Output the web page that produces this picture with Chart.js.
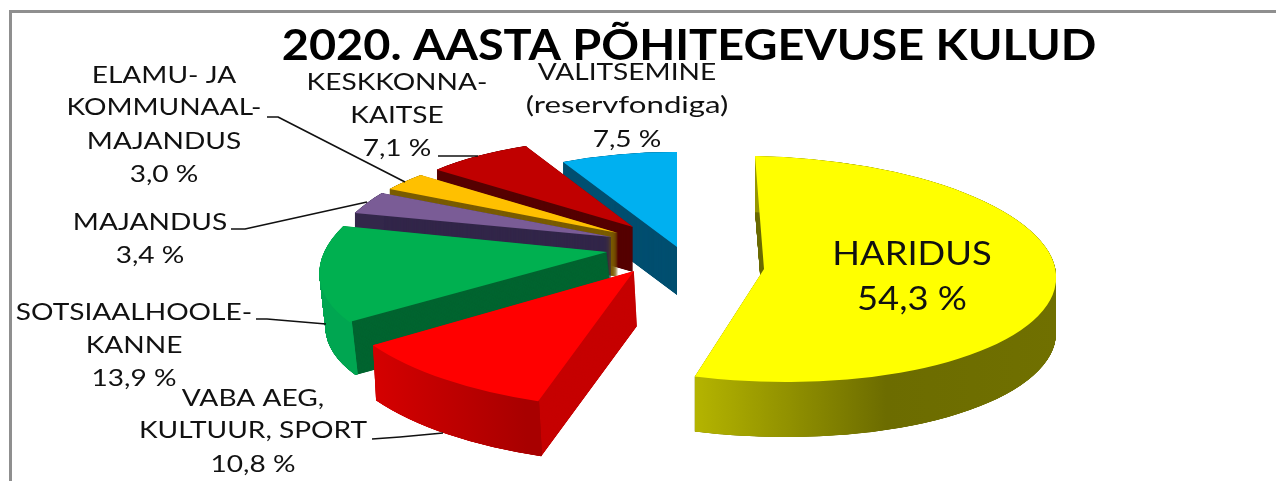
<!DOCTYPE html>
<html><head><meta charset="utf-8">
<style>html,body{margin:0;padding:0;background:#fff}#wrap{position:relative;width:1276px;height:481px}canvas{display:block}</style>
<script src="https://cdn.jsdelivr.net/npm/chart.js@4"></script>
</head><body><div id="wrap"><canvas id="c" width="1276" height="481"></canvas></div>
<script>
const chartTitle = '2020. AASTA PÕHITEGEVUSE KULUD';
const categories = ['HARIDUS','VABA AEG, KULTUUR, SPORT','SOTSIAALHOOLEKANNE','MAJANDUS','ELAMU- JA KOMMUNAALMAJANDUS','KESKKONNAKAITSE','VALITSEMINE (reservfondiga)'];
const values = [54.3,10.8,13.9,3.4,3.0,7.1,7.5];
const topColors = ['#ffff00','#ff0000','#00b050','#7a5c96','#ffc000','#c00000','#00b0f0'];
const wallColors = ['#6e6e00','#c60000','#006531','#33274a','#7a5c00','#560000','#004f70'];
const rimStops = [
  [[-0.3,'#b8b800'],[0.39,'#6c6c00'],[1,'#707000']],
  [[-0.85,'#d80000'],[-0.31,'#a80000']],
  [[-1,'#00a651'],[1,'#00a651']],
  [[-1,'#33274a'],[1,'#33274a']],
  [[-1,'#7a5c00'],[1,'#7a5c00']],
  [[-1,'#560000'],[1,'#560000']],
  [[-1,'#004f70'],[1,'#004f70']]
];
// Per-slice projection of the pie plane: where the slice's apex lands, the linear view matrix, the wall depth vector.
const sliceViews = [
  {tx:764,ty:269,a:292,b:5,c:9,d:113,wx:0,wy:55},
  {tx:634,ty:271,a:312,b:7,c:-13,d:137,wx:3,wy:55},
  {tx:607,ty:252,a:284,b:-3,c:-46,d:116,wx:6,wy:53},
  {tx:612,ty:237,a:274,b:-1,c:-33,d:100,wx:0,wy:45},
  {tx:618,ty:233,a:269,b:4,c:-27,d:90,wx:0,wy:44},
  {tx:633,ty:227,a:254,b:4,c:-9,d:89,wx:0,wy:45},
  {tx:677,ty:247,a:251,b:1,c:0,d:95,wx:0,wy:48}
];
const drawOrder = [6,5,4,3,2,1,0];
const pct = i => values[i].toFixed(1).replace('.',',') + ' %';
const labelStretch = 1.17;
const labelBlocks = [
  {i:0,size:32,x:912,stretch:1.137,lines:[['HARIDUS',255],[null,300]]},
  {i:1,size:24,x:253,lines:[['VABA AEG,',398],['KULTUUR, SPORT',430],[null,464]]},
  {i:2,size:24,x:134,lines:[['SOTSIAALHOOLE-',312],['KANNE',345],[null,378]]},
  {i:3,size:24,x:150,lines:[['MAJANDUS',222],[null,255]]},
  {i:4,size:24,x:164,lines:[['ELAMU- JA',75],['KOMMUNAAL-',107],['MAJANDUS',141],[null,174]]},
  {i:5,size:24,x:397,lines:[['KESKKONNA-',82],['KAITSE',115],[null,148]]},
  {i:6,size:24,x:627,lines:[['VALITSEMINE',72],['(reservfondiga)',105,1.3],[null,139]]}
];
const leaders = [
  [[267,117],[278,117],[405,182]],
  [[231,229],[245,229],[367,202]],
  [[256,319],[267,319],[326,324]],
  [[372,439],[400,437],[443,433]],
  [[438,156],[478,156]]
];
const titleStretch = 1.115;
const frame = {color:'#8f8f8f',left:10,top:11,width:3};

function drawSlice(ctx, arc, idx){
  const v = sliceViews[idx], R = arc.outerRadius;
  const place = (dx,dy) => {
    ctx.save();
    ctx.translate(v.tx+dx, v.ty+dy);
    ctx.transform(v.a/R, v.b/R, v.c/R, v.d/R, 0, 0);
    ctx.translate(-arc.x, -arc.y);
  };
  const paint = (fill, inner) => {
    const el = Object.create(arc);
    el.options = Object.assign({}, arc.options, {backgroundColor:fill, borderWidth:0, offset:0, spacing:0});
    el.innerRadius = inner;
    el.draw(ctx);
  };
  const grad = ctx.createLinearGradient(arc.x-R,0,arc.x+R,0);
  rimStops[idx].forEach(s => grad.addColorStop((s[0]+1)/2, s[1]));
  const steps = Math.round(v.wy)*4;
  for(let k=steps;k>=1;k--){
    const s = k/steps;
    place(v.wx*s, v.wy*s);
    paint(wallColors[idx], 0);
    ctx.restore();
  }
  for(let k=steps;k>=0;k--){
    const s = k/steps;
    place(v.wx*s, v.wy*s);
    paint(grad, R*0.99);
    ctx.restore();
  }
  place(0,0);
  paint(topColors[idx], 0);
  ctx.restore();
}

function stretched(ctx, text, x, y, sx){
  ctx.save();
  ctx.translate(x,y);
  ctx.scale(sx,1);
  ctx.fillText(text,0,0);
  ctx.restore();
}

const pie3d = {
  id:'pie3d',
  beforeDatasetDraw(){ return false; },
  afterDatasetsDraw(chart){
    const ctx = chart.ctx, arcs = chart.getDatasetMeta(0).data;
    drawOrder.forEach(i => drawSlice(ctx, arcs[i], i));
    ctx.save();
    ctx.strokeStyle = '#111'; ctx.lineWidth = 1.6; ctx.lineJoin='round';
    leaders.forEach(l => { ctx.beginPath(); l.forEach((p,n)=> n?ctx.lineTo(p[0],p[1]):ctx.moveTo(p[0],p[1])); ctx.stroke(); });
    ctx.textAlign='center'; ctx.textBaseline='middle'; ctx.fillStyle='#111';
    labelBlocks.forEach(b => {
      ctx.font = b.size+'px Lato';
      b.lines.forEach(l => stretched(ctx, l[0]===null?pct(b.i):l[0], b.x, l[1], l[2]||b.stretch||labelStretch));
    });
    ctx.fillStyle='#000';
    ctx.font='bold 42px Lato';
    stretched(ctx, chartTitle, 689, 46, titleStretch);
    ctx.restore();
  }
};
const framePlugin = {
  id:'frame',
  beforeDraw(chart){
    const ctx = chart.ctx;
    ctx.save();
    ctx.fillStyle='#fff'; ctx.fillRect(0,0,chart.width,chart.height);
    ctx.fillStyle=frame.color;
    ctx.fillRect(frame.left-1,frame.top-1,chart.width,frame.width);
    ctx.fillRect(frame.left-1,frame.top-1,frame.width,chart.height);
    ctx.restore();
  }
};
new Chart(document.getElementById('c'),{
  type:'pie',
  data:{labels:categories,datasets:[{data:values,backgroundColor:topColors,borderWidth:0}]},
  options:{responsive:false,animation:false,rotation:0,
    plugins:{legend:{display:false},tooltip:{enabled:false},title:{display:false}}},
  plugins:[framePlugin,pie3d]
});
</script></body></html>
